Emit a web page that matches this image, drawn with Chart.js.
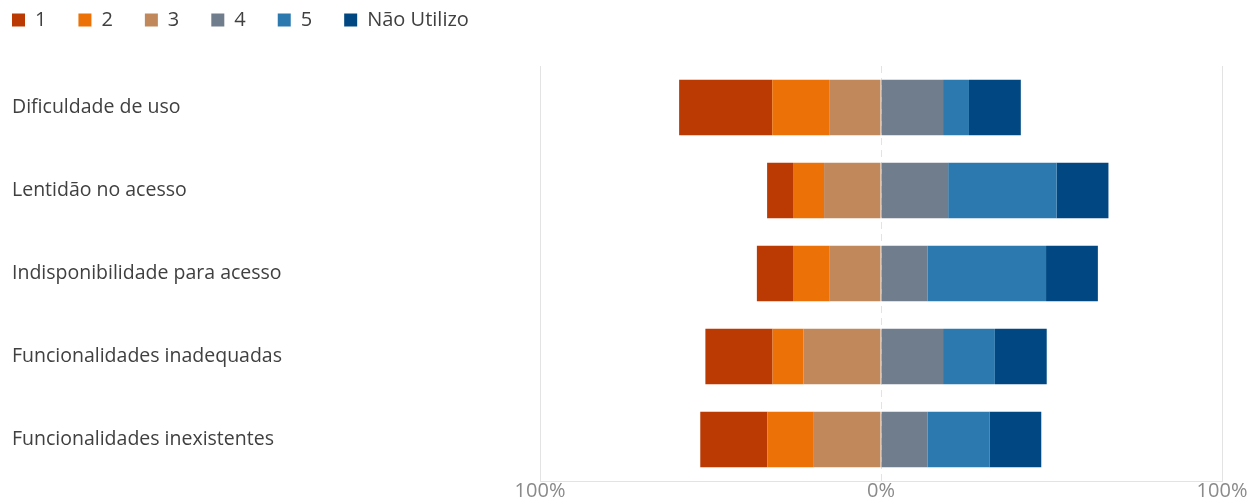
<!DOCTYPE html>
<html>
<head>
<meta charset="utf-8">
<script src="https://cdn.jsdelivr.net/npm/chart.js@4"></script>
<style>
  html, body { margin: 0; padding: 0; background: #fff; }
  #box { width: 1256px; height: 501px; }
</style>
</head>
<body>
<div id="box"><canvas id="grafico"></canvas></div>
<script>
// categorias e valores (% das respostas)
let categorias = [
  "Dificuldade de uso",
  "Lentidão no acesso",
  "Indisponibilidade para acesso",
  "Funcionalidades inadequadas",
  "Funcionalidades inexistentes"
];
let nota1 = [27.3, 7.6, 10.6, 19.7, 19.7];
let nota2 = [16.7, 9.1, 10.6, 9.1, 13.6];
let nota3 = [15.2, 16.7, 15.2, 22.7, 19.7];
let nota4 = [18.2, 19.7, 13.6, 18.2, 13.6];
let nota5 = [7.6, 31.8, 34.8, 15.2, 18.2];
let naoUtilizo = [15.2, 15.2, 15.2, 15.2, 15.2];
let ticksX = [-100, 0, 100];

let cores = {
  "1": "#BB3A03",
  "2": "#EC7106",
  "3": "#C1885C",
  "4": "#6F7D8C",
  "5": "#2C79AF",
  "Não Utilizo": "#014882"
};
let ordemLegenda = ["1", "2", "3", "4", "5", "Não Utilizo"];

function serie(nome, valores, negativo) {
  return {
    label: nome,
    data: valores.map(v => negativo ? -v : v),
    backgroundColor: cores[nome],
    borderWidth: 0,
    barPercentage: 0.667,
    categoryPercentage: 1
  };
}

//As notas negativas empilham a partir do zero, por isso 3 vem antes
let datasets = [
  serie("3", nota3, true),
  serie("2", nota2, true),
  serie("1", nota1, true),
  serie("4", nota4, false),
  serie("5", nota5, false),
  serie("Não Utilizo", naoUtilizo, false)
];

let fonte = "'Open Sans', 'Noto Sans', sans-serif";

//a legenda usa o mesmo padding para espacar os itens e para a margem,
//entao desloco o desenho dela para cima e para a esquerda
let moverLegenda = {
  id: "moverLegenda",
  afterInit: function(chart) {
    let legenda = chart.legend;
    let desenhar = legenda.draw;
    legenda.draw = function(area) {
      chart.ctx.save();
      chart.ctx.translate(-32, -26);
      desenhar.call(this, area);
      chart.ctx.restore();
    };
  }
};

let ctx = document.getElementById("grafico").getContext("2d");
let grafico = new Chart(ctx, {
  type: "bar",
  data: { labels: categorias, datasets: datasets },
  plugins: [moverLegenda],
  options: {
    indexAxis: "y",
    responsive: true,
    maintainAspectRatio: false,
    animation: false,
    layout: { padding: { left: 12, right: 34, top: 4, bottom: 0 } },
    scales: {
      x: {
        stacked: true,
        min: -100,
        max: 100,
        afterBuildTicks: function(axis) {
          axis.ticks = ticksX.map(v => ({ value: v }));
        },
        ticks: {
          color: "#8a8a8a",
          font: { family: fonte, size: 20, lineHeight: 1 },
          padding: 0,
          callback: v => Math.abs(v) + "%"
        },
        grid: {
          color: "#e3e3e3",
          drawTicks: false
        },
        border: {
          display: true,
          color: "#e3e3e3",
          dash: function(c) {
            return c.tick && c.tick.value === 0 ? [7, 5] : [];
          }
        }
      },
      y: {
        stacked: true,
        grid: { display: false },
        border: { display: false },
        ticks: {
          crossAlign: "far",
          color: "#404040",
          font: { family: fonte, size: 19.5 },
          padding: 0
        },
        afterFit: function(axis) {
          axis.width = 528;
        }
      }
    },
    plugins: {
      tooltip: { enabled: false },
      legend: {
        position: "top",
        align: "start",
        labels: {
          boxWidth: 13,
          boxHeight: 13,
          padding: 32,
          color: "#404040",
          font: { family: fonte, size: 20 },
          sort: (a, b) => ordemLegenda.indexOf(a.text) - ordemLegenda.indexOf(b.text)
        }
      }
    }
  }
});
</script>
</body>
</html>
